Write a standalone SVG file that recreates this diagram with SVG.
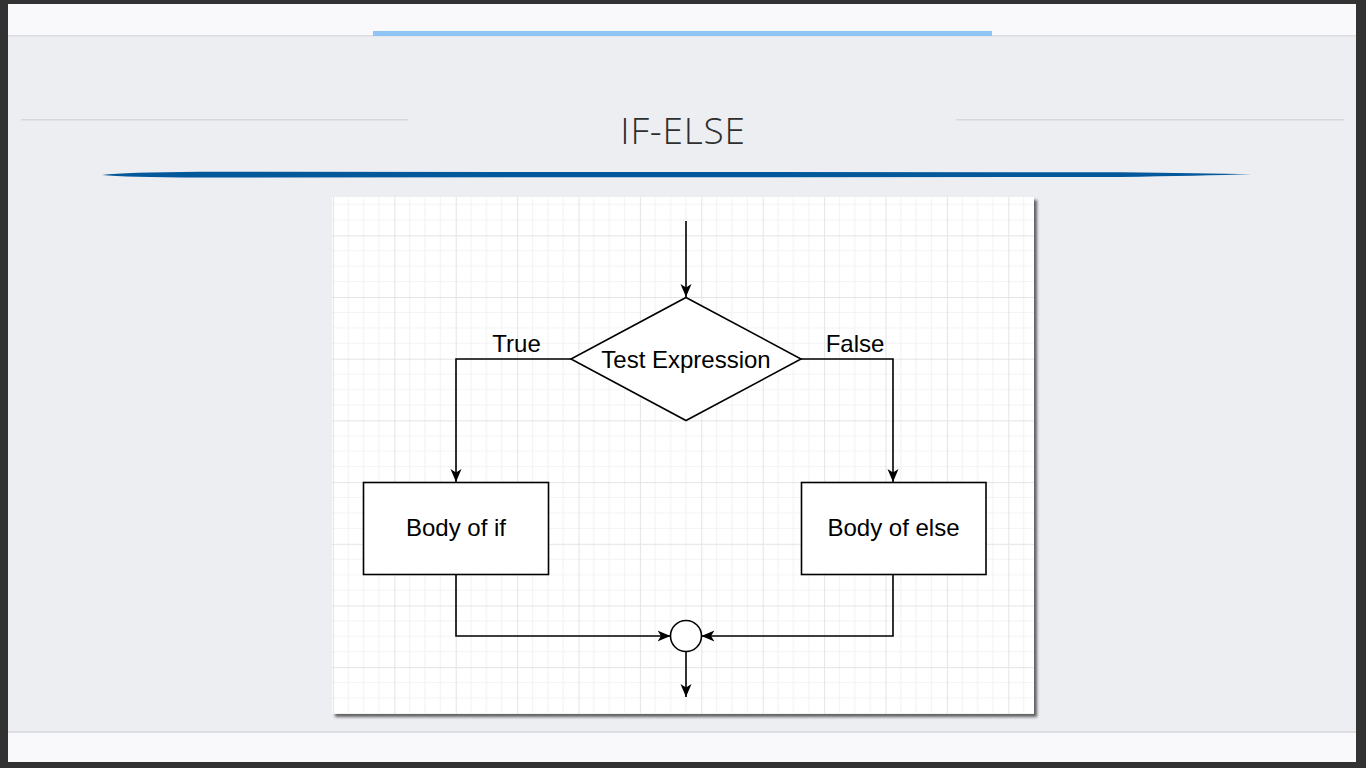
<svg xmlns="http://www.w3.org/2000/svg" width="1366" height="768" viewBox="0 0 1366 768">
<style>
.shape{fill:#fff;stroke:#000;stroke-width:1.6}
.edge{fill:none;stroke:#000;stroke-width:1.6}
.lbl{font-family:"Liberation Sans",Arial,sans-serif;font-size:24px;fill:#000;text-anchor:middle}
.title{font-family:"Open Sans","Liberation Sans",sans-serif;font-weight:300;font-size:37px;fill:#2e2e2e;text-anchor:middle;letter-spacing:0.8px}
</style>
<defs>
<marker id="arr" viewBox="0 0 13 12" refX="13" refY="6" markerWidth="13" markerHeight="12" markerUnits="userSpaceOnUse" orient="auto">
<path d="M0,0.5 L13,6 L0,11.5 L3.5,6 Z" fill="#000"/>
</marker>
<pattern id="grid" patternUnits="userSpaceOnUse" x="332.9" y="173.6" width="61.4" height="61.7">
<rect width="61.4" height="61.7" fill="#fff"/>
<path d="M15.35,0V61.7M30.7,0V61.7M46.05,0V61.7M0,15.4H61.4M0,30.85H61.4M0,46.3H61.4" stroke="#f3f3f3" stroke-width="1" fill="none"/>
<path d="M0.5,0V61.7M0,0.5H61.4" stroke="#e4e4e4" stroke-width="1" fill="none"/>
</pattern>
<filter id="sh" x="-5%" y="-5%" width="112%" height="112%">
<feGaussianBlur in="SourceAlpha" stdDeviation="1.5"/>
<feOffset dx="3" dy="3"/>
<feComponentTransfer><feFuncA type="linear" slope="0.6"/></feComponentTransfer>
<feMerge><feMergeNode/><feMergeNode in="SourceGraphic"/></feMerge>
</filter>
</defs>

<!-- frame -->
<rect x="0" y="0" width="1366" height="768" fill="#323232"/>
<rect x="8" y="4" width="1348" height="758" fill="#edeef2"/>
<rect x="8" y="4" width="1348" height="31" fill="#f9f9fb"/>
<rect x="8" y="35" width="1348" height="1.5" fill="#dcdde2"/>
<rect x="373" y="31" width="619" height="5" fill="#90c4f5"/>
<rect x="8" y="731" width="1348" height="2" fill="#dcdde2"/>
<rect x="8" y="733" width="1348" height="29" fill="#f9f9fb"/>

<!-- title area -->
<rect x="21" y="119" width="387" height="1.5" fill="#d6d7dc"/>
<rect x="956" y="119" width="388" height="1.5" fill="#d6d7dc"/>
<text class="title" x="683" y="144">IF-ELSE</text>
<path d="M102,175 Q125,172.2 200,171.8 L1120,172.2 Q1200,173 1252,174.2 Q1200,175.6 1120,177 L200,177.5 Q125,177.3 102,175 Z" fill="#03579b"/>

<!-- canvas -->
<rect x="332" y="197" width="702" height="517" fill="url(#grid)" filter="url(#sh)"/>

<!-- connectors -->
<g id="connectors">
<path class="edge" d="M686,221 V297" marker-end="url(#arr)"/>
<path class="edge" d="M571,359 H456 V482" marker-end="url(#arr)"/>
<path class="edge" d="M801,359 H893 V482" marker-end="url(#arr)"/>
<path class="edge" d="M456,574 V636 H670.5" marker-end="url(#arr)"/>
<path class="edge" d="M893,574 V636 H701.5" marker-end="url(#arr)"/>
<path class="edge" d="M686,651.5 V697" marker-end="url(#arr)"/>
<text class="lbl" x="516.5" y="352">True</text>
<text class="lbl" x="855" y="352">False</text>
</g>

<!-- nodes -->
<g id="test">
<polygon class="shape" points="686,297.5 801,359 686,420.5 571,359"/>
<text class="lbl" x="686" y="367.5">Test Expression</text>
</g>
<g id="body-if">
<rect class="shape" x="363.5" y="482.5" width="185" height="92"/>
<text class="lbl" x="456" y="536">Body of if</text>
</g>
<g id="body-else">
<rect class="shape" x="801.5" y="482.5" width="184.5" height="92"/>
<text class="lbl" x="893.5" y="536">Body of else</text>
</g>
<g id="join">
<circle class="shape" cx="686" cy="636" r="15.5"/>
</g>
</svg>
